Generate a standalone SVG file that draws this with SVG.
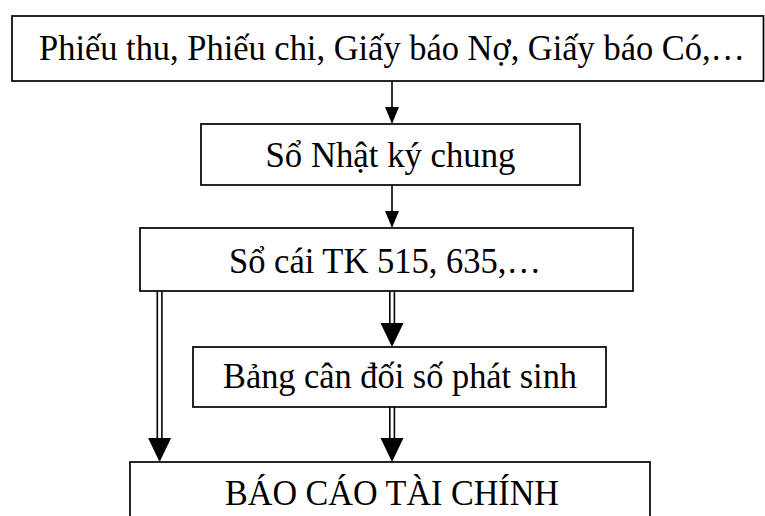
<svg xmlns="http://www.w3.org/2000/svg" width="765" height="516" viewBox="0 0 765 516">
<style>
.box{fill:#fff;stroke:#000;stroke-width:1.7}
.lbl{font-family:"Liberation Serif","Times New Roman",serif;font-size:36.5px;fill:#000;text-anchor:middle}
.ln{stroke:#000;stroke-width:1.6;fill:none}
.head{fill:#000}
</style>
<defs>
<path id="hs" class="head" d="M-7,-17 L7,-17 L0,0 Z"/>
<path id="hd" class="head" d="M-11.5,-24 L11.5,-24 L0,0 Z"/>
</defs>
<rect width="765" height="516" fill="#fff"/>
<g id="n1">
<rect class="box" x="12" y="16" width="751.5" height="65"/>
<text class="lbl" x="392" y="60" style="font-size:35.5px" textLength="706" lengthAdjust="spacingAndGlyphs">Phiếu thu, Phiếu chi, Giấy báo Nợ, Giấy báo Có,…</text>
</g>
<g id="n2">
<rect class="box" x="201" y="124" width="379" height="61"/>
<text class="lbl" x="390.5" y="167" textLength="250" lengthAdjust="spacingAndGlyphs">Sổ Nhật ký chung</text>
</g>
<g id="n3">
<rect class="box" x="140" y="228" width="493" height="63"/>
<text class="lbl" x="385" y="273" textLength="312" lengthAdjust="spacingAndGlyphs">Sổ cái TK 515, 635,…</text>
</g>
<g id="n4">
<rect class="box" x="193" y="347" width="413" height="60"/>
<text class="lbl" x="400" y="388" textLength="354" lengthAdjust="spacingAndGlyphs">Bảng cân đối số phát sinh</text>
</g>
<g id="n5">
<rect class="box" x="130" y="462" width="520" height="70"/>
<text class="lbl" x="392" y="505" textLength="334" lengthAdjust="spacingAndGlyphs">BÁO CÁO TÀI CHÍNH</text>
</g>
<g id="connectors">
<line class="ln" x1="392" y1="81" x2="392" y2="108"/>
<use href="#hs" x="392" y="124"/>
<line class="ln" x1="392" y1="185" x2="392" y2="212"/>
<use href="#hs" x="392" y="228"/>
<line class="ln" x1="389.8" y1="291" x2="389.8" y2="324"/>
<line class="ln" x1="394.4" y1="291" x2="394.4" y2="324"/>
<use href="#hd" x="392" y="347"/>
<line class="ln" x1="389.8" y1="407" x2="389.8" y2="439"/>
<line class="ln" x1="394.4" y1="407" x2="394.4" y2="439"/>
<use href="#hd" x="392" y="462"/>
<line class="ln" x1="157.3" y1="291" x2="157.3" y2="439"/>
<line class="ln" x1="161.9" y1="291" x2="161.9" y2="439"/>
<use href="#hd" x="159.6" y="462"/>
</g>
</svg>
